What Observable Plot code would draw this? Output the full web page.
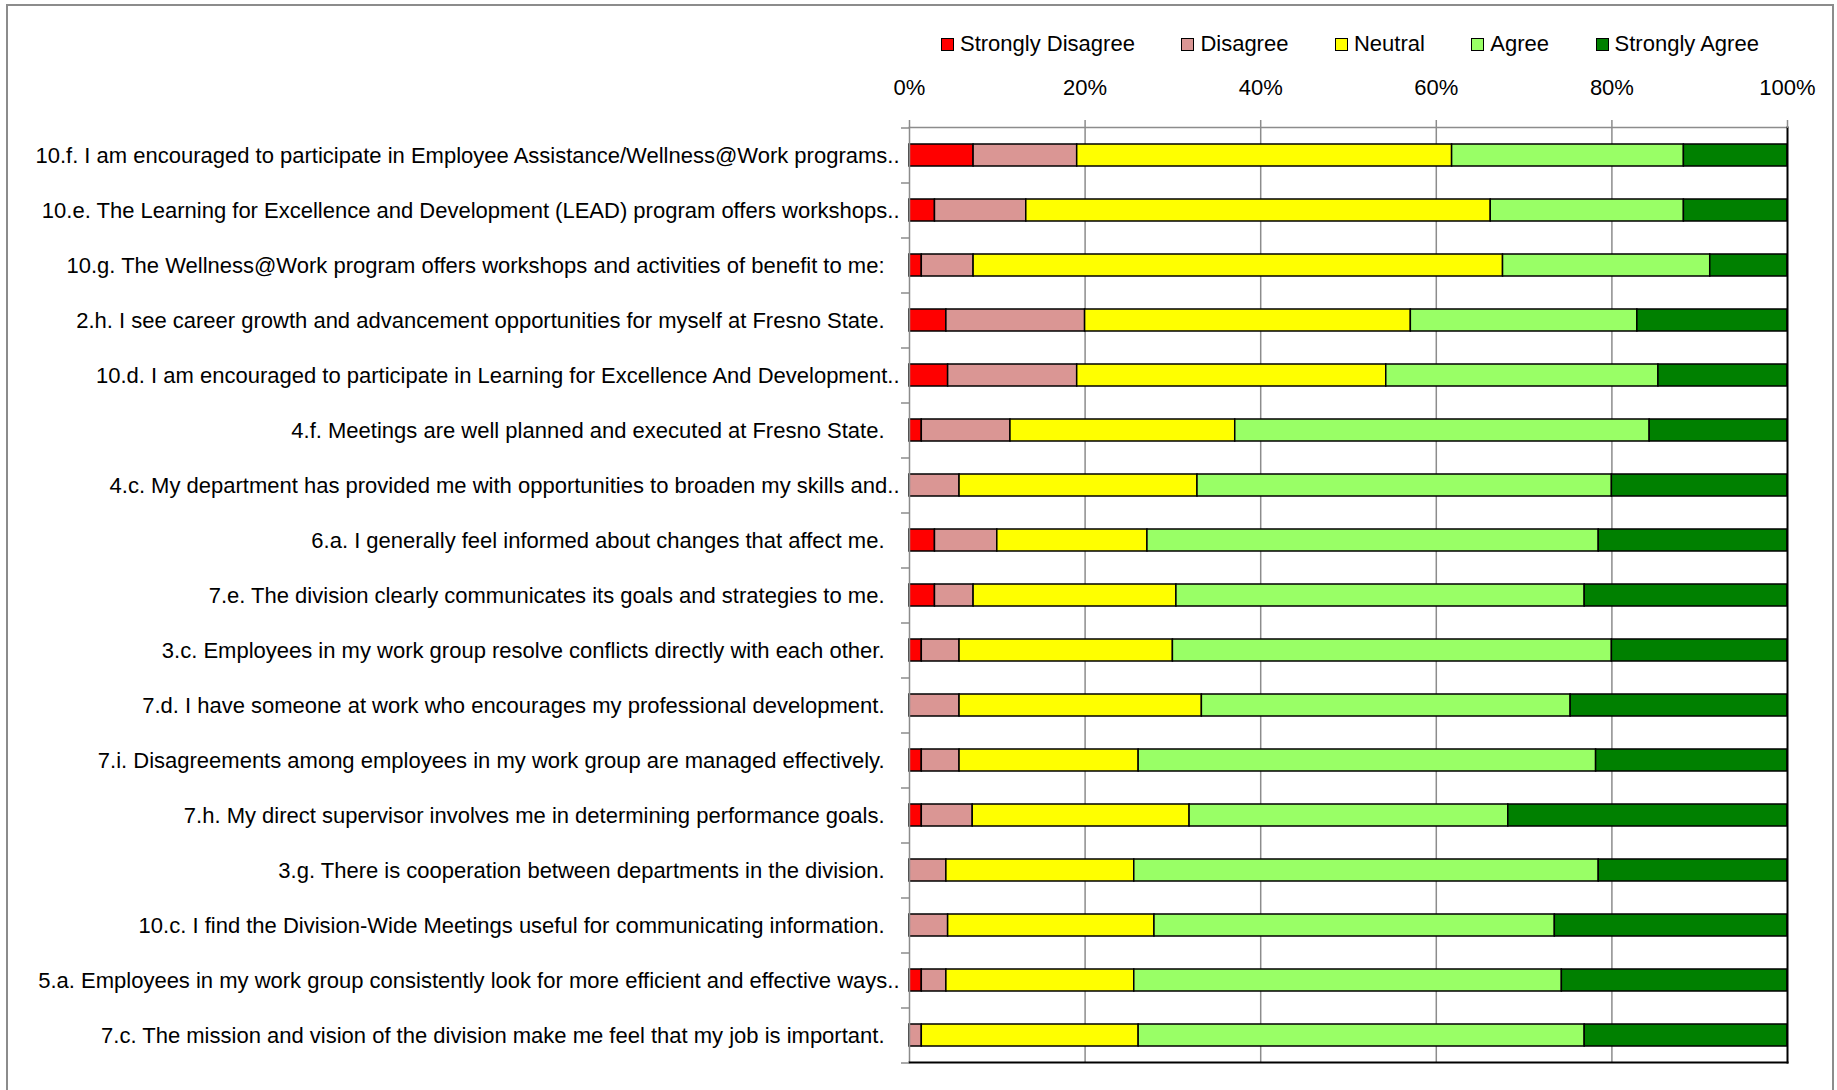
<!DOCTYPE html>
<html>
<head>
<meta charset="utf-8">
<script src="https://cdn.jsdelivr.net/npm/d3@7"></script>
<script src="https://cdn.jsdelivr.net/npm/@observablehq/plot@0.6"></script>
<style>
  html, body { margin: 0; padding: 0; background: #fff; }
  body { width: 1837px; height: 1090px; overflow: hidden; position: relative;
         font-family: "Liberation Sans", Arial, sans-serif; }
  #outer { position: absolute; left: 6px; top: 4px; width: 1828px; height: 1200px;
           border: 2px solid #8c8c8c; box-sizing: border-box; pointer-events: none; }
  #legend { position: relative; height: 60px; }
  #legend .items { position: absolute; left: 941px; top: 32px; display: flex; align-items: center; gap: 46.5px; }
  #legend .item { display: flex; align-items: center; gap: 6px; font-size: 22px; line-height: 24px; color: #000; }
  #legend .sw { width: 11px; height: 11px; border: 1px solid #000; }
</style>
</head>
<body>
<div id="outer"></div>
<div id="legend"><div class="items"></div></div>
<div id="chart"></div>
<script>
const questions = [
  "10.f. I am encouraged to participate in Employee Assistance/Wellness@Work programs..",
  "10.e. The Learning for Excellence and Development (LEAD) program offers workshops..",
  "10.g. The Wellness@Work program offers workshops and activities of benefit to me:",
  "2.h. I see career growth and advancement opportunities for myself at Fresno State.",
  "10.d. I am encouraged to participate in Learning for Excellence And Development..",
  "4.f. Meetings are well planned and executed at Fresno State.",
  "4.c. My department has provided me with opportunities to broaden my skills and..",
  "6.a. I generally feel informed about changes that affect me.",
  "7.e. The division clearly communicates its goals and strategies to me.",
  "3.c. Employees in my work group resolve conflicts directly with each other.",
  "7.d. I have someone at work who encourages my professional development.",
  "7.i. Disagreements among employees in my work group are managed effectively.",
  "7.h. My direct supervisor involves me in determining performance goals.",
  "3.g. There is cooperation between departments in the division.",
  "10.c. I find the Division-Wide Meetings useful for communicating information.",
  "5.a. Employees in my work group consistently look for more efficient and effective ways..",
  "7.c. The mission and vision of the division make me feel that my job is important."
];

const ratings = ["Strongly Disagree", "Disagree", "Neutral", "Agree", "Strongly Agree"];
const ratingColors = ["#ff0000", "#da9694", "#ffff00", "#99ff66", "#008000"];

const stronglyDisagree = [7.3, 2.9, 1.4, 4.2, 4.4, 1.4, 0, 2.9, 2.9, 1.4, 0, 1.4, 1.4, 0, 0, 1.4, 0];
const disagree         = [11.8, 10.4, 5.9, 15.8, 14.7, 10.1, 5.7, 7.1, 4.4, 4.3, 5.7, 4.3, 5.8, 4.2, 4.4, 2.8, 1.4];
const neutral          = [42.7, 52.9, 60.3, 37.1, 35.2, 25.6, 27.1, 17.1, 23.1, 24.3, 27.6, 20.4, 24.7, 21.4, 23.5, 21.4, 24.7];
const agree            = [26.4, 22.0, 23.6, 25.8, 31.0, 47.2, 47.2, 51.4, 46.5, 50.0, 42.0, 52.1, 36.3, 52.9, 45.6, 48.7, 50.8];
const stronglyAgree    = [11.8, 11.8, 8.8, 17.1, 14.7, 15.7, 20.0, 21.5, 23.1, 20.0, 24.7, 21.8, 31.8, 21.5, 26.5, 25.7, 23.1];

const xTicks = [0, 20, 40, 60, 80, 100];
const gridTicks = [20, 40, 60, 80];

const series = [stronglyDisagree, disagree, neutral, agree, stronglyAgree];
const data = [];
questions.forEach((q, i) => {
  ratings.forEach((r, j) => {
    const v = series[j][i];
    if (v > 0) data.push({question: q, rating: r, value: v});
  });
});

// Legend (HTML, above the SVG)
const items = document.querySelector("#legend .items");
ratings.forEach((r, j) => {
  const it = document.createElement("div");
  it.className = "item";
  const sw = document.createElement("div");
  sw.className = "sw";
  sw.style.background = ratingColors[j];
  const t = document.createElement("span");
  t.textContent = r;
  it.appendChild(sw); it.appendChild(t);
  items.appendChild(it);
});

const font = '"Liberation Sans", Arial, sans-serif';
const isTrunc = (d) => d.endsWith("..");
const lastQ = questions[questions.length - 1];

const chart = Plot.plot({
  width: 1837,
  height: 1030,
  marginTop: 67,
  marginBottom: 28,
  marginLeft: 909,
  marginRight: 50,
  style: {fontFamily: font, fontSize: "22px", background: "transparent", color: "#000"},
  x: {domain: [0, 100], axis: null},
  y: {domain: questions, paddingInner: 0.6, paddingOuter: 0.3, axis: null},
  color: {domain: ratings, range: ratingColors},
  marks: [
    Plot.ruleX(gridTicks, {stroke: "#8c8c8c", strokeWidth: 1.5}),
    Plot.barX(data, Plot.stackX({
      x: "value", y: "question", fill: "rating", order: ratings,
      stroke: "#000", strokeWidth: 1.5
    })),
    Plot.frame({anchor: "top", stroke: "#8c8c8c", strokeWidth: 1.5}),
    Plot.frame({anchor: "left", stroke: "#8c8c8c", strokeWidth: 1.5}),
    Plot.frame({anchor: "right", stroke: "#000", strokeWidth: 2}),
    Plot.frame({anchor: "bottom", stroke: "#000", strokeWidth: 2}),
    Plot.axisX({
      anchor: "top", ticks: xTicks, tickFormat: (d) => d + "%", label: null,
      tickSize: 8, tickPadding: 25, stroke: "#8c8c8c", fill: "#000",
      fontSize: 22, strokeWidth: 1.5
    }),
    // category separator ticks on the left axis
    Plot.ruleY(questions, {y: (d) => d, x1: 0, x2: 0, insetLeft: -8, dy: -27.5, stroke: "#8c8c8c", strokeWidth: 1.5}),
    Plot.ruleY([lastQ], {y: (d) => d, x1: 0, x2: 0, insetLeft: -8, dy: 27.5, stroke: "#8c8c8c", strokeWidth: 1.5}),
    Plot.text(questions.filter((d) => !isTrunc(d)), {
      y: (d) => d, x: 0, text: (d) => d, textAnchor: "end", dx: -25, fill: "#000", fontSize: 22
    }),
    Plot.text(questions.filter(isTrunc), {
      y: (d) => d, x: 0, text: (d) => d, textAnchor: "end", dx: -10, fill: "#000", fontSize: 22
    })
  ]
});
document.getElementById("chart").appendChild(chart);
</script>
</body>
</html>
